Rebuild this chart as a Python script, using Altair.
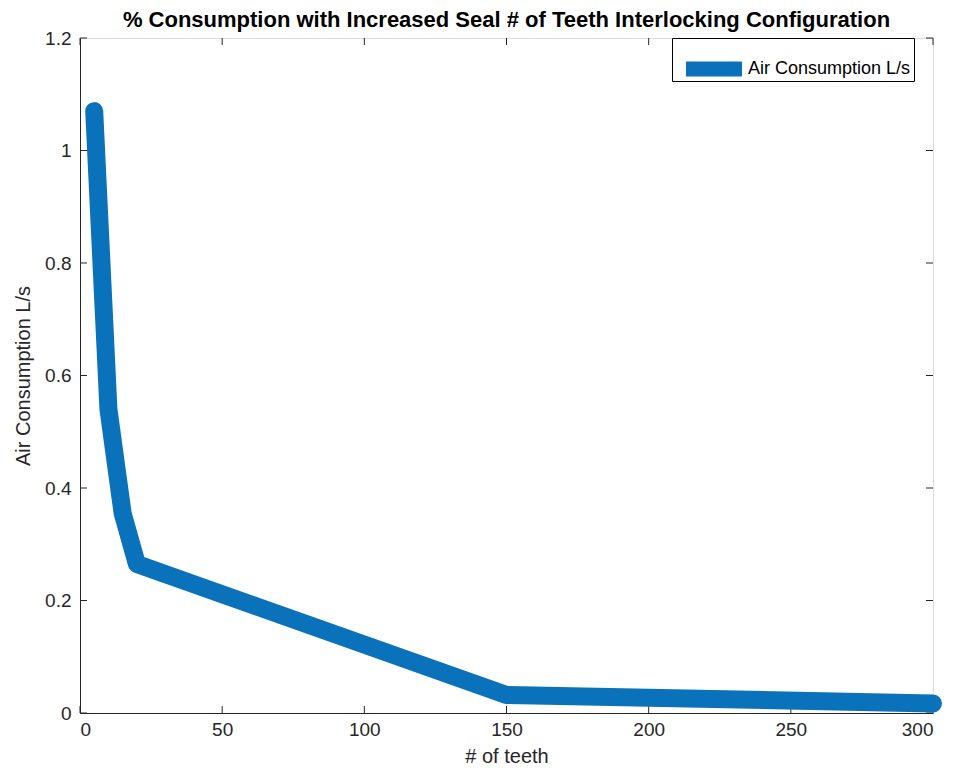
import altair as alt
import pandas as pd

# ---- data ----
teeth = [5, 10, 15, 20, 150, 300]
air = [1.07, 0.54, 0.355, 0.265, 0.032, 0.017]
series_name = "Air Consumption L/s"

x_ticks = [0, 50, 100, 150, 200, 250, 300]
y_ticks = [0, 0.2, 0.4, 0.6, 0.8, 1.0, 1.2]

W, H = 853, 675
AX = "#262626"
BLUE = "#0a72bb"
FONT = "Liberation Sans"

df = pd.DataFrame({"teeth": teeth, "air": air, "series": [series_name] * len(teeth)})
xt = pd.DataFrame({"v": x_ticks})
yt = pd.DataFrame({"v": y_ticks})

xscale = alt.Scale(domain=[0, 300], nice=False, zero=False)
yscale = alt.Scale(domain=[0, 1.2], nice=False, zero=False)

line = alt.Chart(df).mark_line(
    strokeWidth=18, strokeCap="round", strokeJoin="round"
).encode(
    x=alt.X("teeth:Q", scale=xscale,
            axis=alt.Axis(values=x_ticks, title="# of teeth", format="d",
                          tickSize=0, labelPadding=7, grid=False,
                          domainColor=AX, labelColor=AX, titleColor=AX,
                          labelFontSize=19, titleFontSize=20, labelFont=FONT, titleFont=FONT,
                          titleFontWeight="normal",
                          titleX=W / 2, titleY=43, titleBaseline="middle", titleAlign="center")),
    y=alt.Y("air:Q", scale=yscale,
            axis=alt.Axis(values=y_ticks, title="Air Consumption L/s",
                          labelExpr="datum.value == 0 ? '0' : datum.value == 1 ? '1' : format(datum.value, '.1f')",
                          tickSize=0, labelPadding=9, grid=False,
                          domainColor=AX, labelColor=AX, titleColor=AX,
                          labelFontSize=19, titleFontSize=20, labelFont=FONT, titleFont=FONT,
                          titleFontWeight="normal",
                          titleX=-57, titleY=H / 2, titleAngle=-90,
                          titleBaseline="middle", titleAlign="center")),
    color=alt.Color("series:N", scale=alt.Scale(range=[BLUE]),
                    legend=alt.Legend(title=None, orient="none", legendX=592, legendY=0,
                                      symbolType="M-1,-0.27H1V0.27H-1Z", symbolSize=3136,
                                      symbolStrokeWidth=0, symbolFillColor=BLUE,
                                      symbolOffset=11,
                                      labelFontSize=18, labelFont=FONT, labelColor="#000000",
                                      labelLimit=400,
                                      strokeColor="#000000", fillColor="#ffffff",
                                      padding=3, labelOffset=6, cornerRadius=0)),
)

tick_len = 7
xb = alt.Chart(xt).mark_rule(color=AX, strokeWidth=1).encode(
    x=alt.X("v:Q", scale=xscale), y=alt.value(H), y2=alt.value(H - tick_len))
xtop = alt.Chart(xt).mark_rule(color=AX, strokeWidth=1).encode(
    x=alt.X("v:Q", scale=xscale), y=alt.value(0), y2=alt.value(tick_len))
yl = alt.Chart(yt).mark_rule(color=AX, strokeWidth=1).encode(
    y=alt.Y("v:Q", scale=yscale), x=alt.value(0), x2=alt.value(tick_len))
yr = alt.Chart(yt).mark_rule(color=AX, strokeWidth=1).encode(
    y=alt.Y("v:Q", scale=yscale), x=alt.value(W), x2=alt.value(W - tick_len))

chart = alt.layer(xb, xtop, yl, yr, line).properties(
    width=W, height=H,
    title=alt.TitleParams("% Consumption with Increased Seal # of Teeth Interlocking Configuration",
                          font=FONT, fontSize=22, fontWeight="bold", color="#000000",
                          anchor="middle", offset=-3),
    autosize=alt.AutoSizeParams(type="none"),
    padding={"left": 72, "top": 30, "right": 17, "bottom": 55},
).configure_view(stroke=AX, strokeWidth=1).configure(background="white")

chart.save("out.html", embed_options={"renderer": "svg", "actions": False})
